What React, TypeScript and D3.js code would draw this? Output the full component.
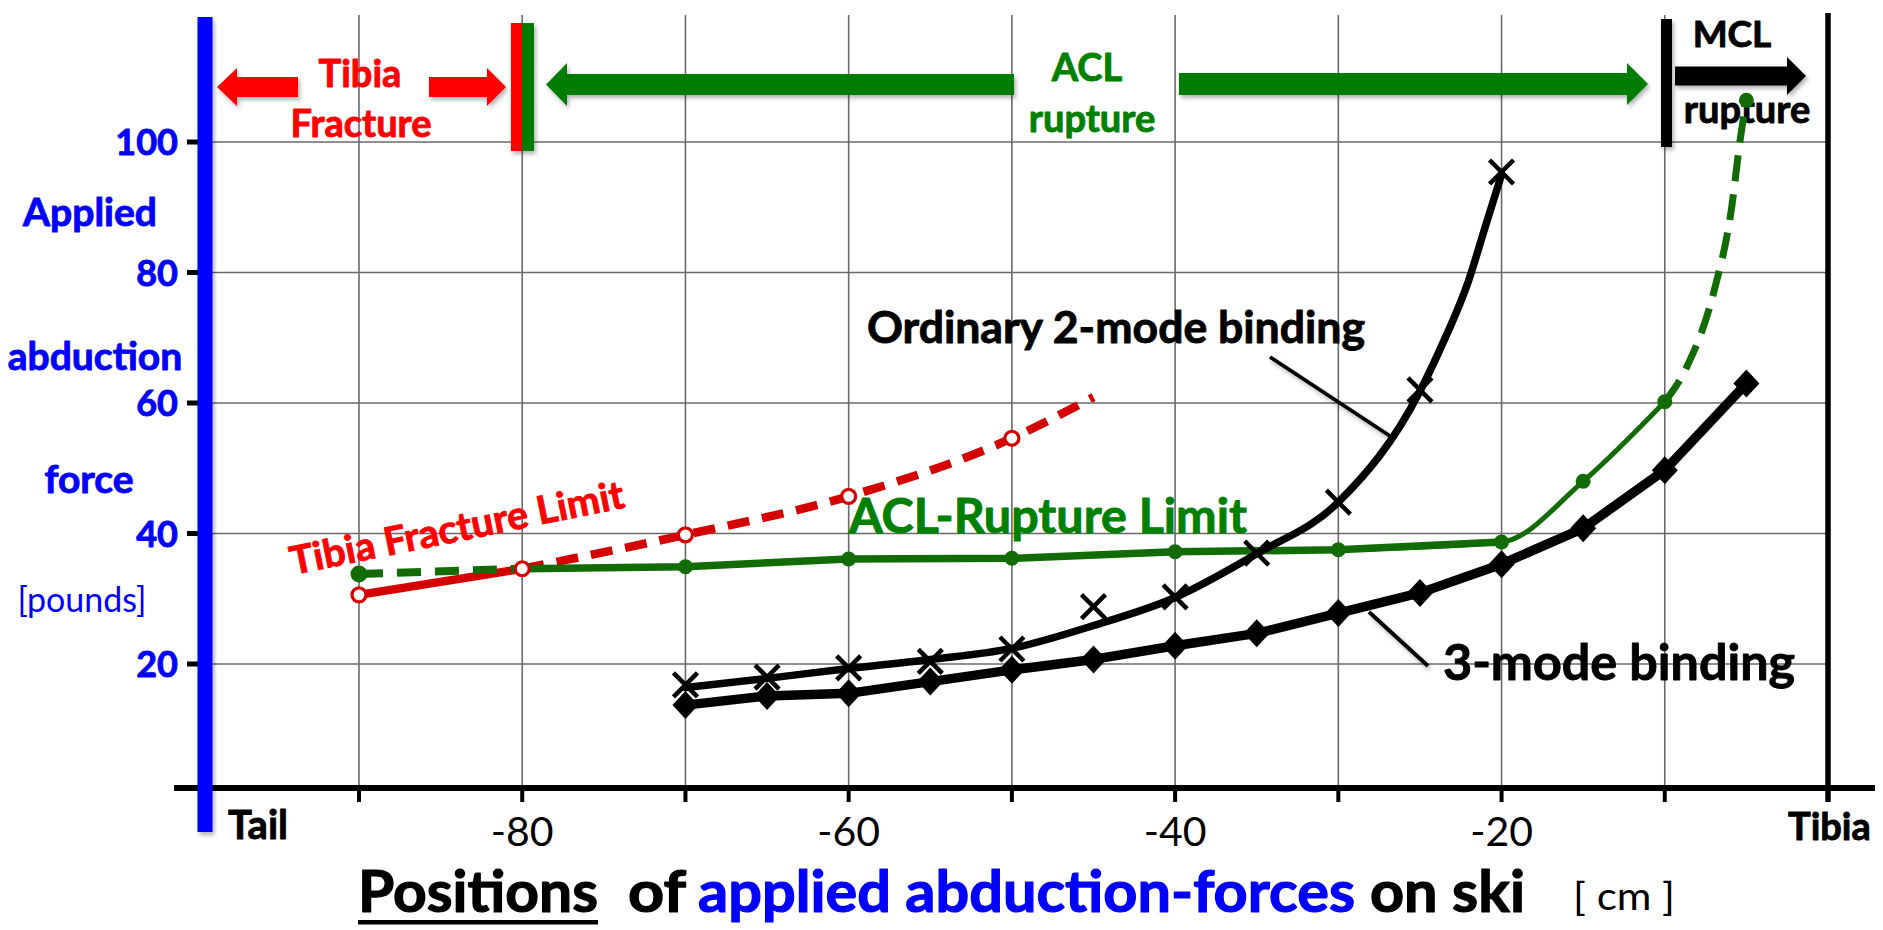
import React from "react";
import * as d3 from "d3";

// ---------- DATA ----------
const yTickValues = [20, 40, 60, 80, 100];
const xTickMarks = [-90, -80, -70, -60, -50, -40, -30, -20, -10, 0];
const xTickLabels = [-80, -60, -40, -20];
const xGridValues = [-90, -80, -70, -60, -50, -40, -30, -20, -10];

// Ordinary 2-mode binding (X markers)
const ordinaryX = [-70, -65, -60, -55, -50, -45, -40, -35, -30, -25, -20];
const ordinaryY = [16.8, 18.0, 19.4, 20.4, 22.3, 28.8, 30.3, 37.0, 44.8, 62.0, 95.4];
// Ordinary 2-mode binding fitted curve
const ordinaryFitX = [-70, -65, -60, -55, -50, -45, -40, -35, -30, -25, -23.7, -22, -21, -20];
const ordinaryFitY = [16.4, 17.8, 19.3, 20.7, 22.4, 25.9, 30.2, 36.9, 44.8, 61.8, 68.6, 78.9, 87.0, 95.0];

// 3-mode binding (diamond markers)
const threeModeX = [-70, -65, -60, -55, -50, -45, -40, -35, -30, -25, -20, -15, -10, -5];
const threeModeY = [13.7, 15.1, 15.5, 17.3, 19.1, 20.7, 22.8, 24.7, 27.8, 30.9, 35.3, 40.8, 49.7, 63.0];

// ACL-Rupture Limit
const aclFlatX = [-80, -70, -60, -50, -40, -30, -20];
const aclFlatY = [34.6, 34.9, 36.1, 36.2, 37.2, 37.5, 38.7];
const aclBendX = [-30, -20, -15, -10];
const aclBendY = [37.5, 38.7, 48.0, 60.2];
const aclLeftDashX = [-90, -80];
const aclLeftDashY = [33.8, 34.6];
const aclRightDashX = [-10, -8.7, -7, -5.9, -5.4, -5];
const aclRightDashY = [60.2, 65.3, 77, 90, 100, 106.4];
const aclMarkerX = [-90, -80, -70, -60, -50, -40, -30, -20, -15, -10, -5];
const aclMarkerY = [33.8, 34.6, 34.9, 36.1, 36.2, 37.2, 37.5, 38.7, 48.0, 60.2, 106.4];

// Tibia Fracture Limit
const tibiaSolidX = [-90, -80];
const tibiaSolidY = [30.6, 34.6];
const tibiaDashX = [-80, -70, -60, -50, -45];
const tibiaDashY = [34.6, 39.8, 45.7, 54.6, 60.9];
const tibiaMarkerX = [-90, -80, -70, -60, -50];
const tibiaMarkerY = [30.6, 34.6, 39.8, 45.7, 54.6];

// ---------- LAYOUT ----------
const W = 1883;
const H = 930;
const FONT = "Lato, 'Open Sans', 'DejaVu Sans', sans-serif";
const BLUE = "#0000ff";
const RED_TXT = "#ff0000";
const RED_LINE = "#d40000";
const GREEN_TXT = "#008000";
const GREEN_LINE = "#136b06";
const GREEN_ARROW = "#037d03";

const x = d3.scaleLinear().domain([-90, 0]).range([359, 1828]);
const y = d3.scaleLinear().domain([0, 100]).range([794.5, 142]);

const PLOT_TOP = 15;
const AXIS_Y = y(1);
const BLUE_X = 205;

const zip = (xs: number[], ys: number[]) => xs.map((v, i) => [v, ys[i]] as [number, number]);

const lineMono = d3
  .line<[number, number]>()
  .x((d) => x(d[0]))
  .y((d) => y(d[1]))
  .curve(d3.curveMonotoneX);
const lineLin = d3
  .line<[number, number]>()
  .x((d) => x(d[0]))
  .y((d) => y(d[1]))
  .curve(d3.curveLinear);

function arrowPath(tail: number, tip: number, cy: number, shaftHalf: number, headHalf: number, headLen: number) {
  const dir = tip > tail ? 1 : -1;
  const hb = tip - dir * headLen;
  const p = d3.path();
  p.moveTo(tail, cy - shaftHalf);
  p.lineTo(hb, cy - shaftHalf);
  p.lineTo(hb, cy - headHalf);
  p.lineTo(tip, cy);
  p.lineTo(hb, cy + headHalf);
  p.lineTo(hb, cy + shaftHalf);
  p.lineTo(tail, cy + shaftHalf);
  p.closePath();
  return p.toString();
}

function XMark({ cx, cy }: { cx: number; cy: number }) {
  const s = 12;
  return (
    <g stroke="#000" strokeWidth={4.5} strokeLinecap="butt">
      <line x1={cx - s} y1={cy - s} x2={cx + s} y2={cy + s} />
      <line x1={cx - s} y1={cy + s} x2={cx + s} y2={cy - s} />
    </g>
  );
}

function Diamond({ cx, cy }: { cx: number; cy: number }) {
  const s = 14;
  return <path d={`M${cx},${cy - s}L${cx + s - 1},${cy}L${cx},${cy + s}L${cx - s + 1},${cy}Z`} fill="#000" />;
}

// bold text helper (slightly emboldened to mimic the heavy original face)
function BT(props: any) {
  const { fill, sw = 0.9, children, ...rest } = props;
  return (
    <text fill={fill} stroke={fill} strokeWidth={sw} strokeLinejoin="round" fontWeight={700} {...rest}>
      {children}
    </text>
  );
}

export default function App() {
  const ord = zip(ordinaryX, ordinaryY);
  const ordFit = zip(ordinaryFitX, ordinaryFitY);
  const three = zip(threeModeX, threeModeY);
  const aclMarks = zip(aclMarkerX, aclMarkerY);
  const tibMarks = zip(tibiaMarkerX, tibiaMarkerY);

  return (
    <svg
      width={W}
      height={H}
      viewBox={`0 0 ${W} ${H}`}
      style={{ position: "absolute", left: 0, top: 0, display: "block", background: "#fff" }}
      fontFamily={FONT}
    >
      <defs>
        <filter id="sh" x="-30%" y="-30%" width="160%" height="180%">
          <feDropShadow dx="2" dy="3" stdDeviation="2" floodColor="#000" floodOpacity="0.3" />
        </filter>
      </defs>
      <rect x={0} y={0} width={W} height={H} fill="#fff" />

      {/* grid */}
      <g stroke="#6a6a6a" strokeWidth={1.6}>
        {xGridValues.map((v) => (
          <line key={"gx" + v} x1={x(v)} x2={x(v)} y1={PLOT_TOP} y2={AXIS_Y} />
        ))}
        {yTickValues.map((v) => (
          <line key={"gy" + v} x1={BLUE_X} x2={x(0)} y1={y(v)} y2={y(v)} />
        ))}
      </g>

      {/* y ticks */}
      <g stroke="#000" strokeWidth={5}>
        {yTickValues.map((v) => (
          <line key={"yt" + v} x1={187} x2={BLUE_X} y1={y(v)} y2={y(v)} />
        ))}
      </g>
      <g textAnchor="end">
        {yTickValues.map((v) => (
          <BT key={"yl" + v} fill={BLUE} fontSize={36} x={178} y={y(v) + 13}>
            {v}
          </BT>
        ))}
      </g>

      {/* x axis */}
      <line x1={174} x2={1875} y1={AXIS_Y} y2={AXIS_Y} stroke="#000" strokeWidth={6} />
      <g stroke="#000" strokeWidth={4}>
        {xTickMarks.map((v) => (
          <line key={"xt" + v} x1={x(v)} x2={x(v)} y1={AXIS_Y} y2={AXIS_Y + 14} />
        ))}
      </g>
      <g fontSize={41} textAnchor="middle" fill="#000">
        {xTickLabels.map((v) => (
          <text key={"xl" + v} x={x(v)} y={846}>
            {"-" + Math.abs(v)}
          </text>
        ))}
      </g>
      <BT x={228} y={839} fontSize={40} fill="#000">
        Tail
      </BT>
      <BT x={1788} y={840} fontSize={38} fill="#000">
        Tibia
      </BT>

      {/* right tibia line */}
      <line x1={x(0)} x2={x(0)} y1={13} y2={AXIS_Y + 14} stroke="#000" strokeWidth={5.5} />

      {/* blue y-axis bar */}
      <rect x={BLUE_X - 7.5} y={17} width={15} height={815} fill={BLUE} filter="url(#sh)" />

      {/* y axis title */}
      <g textAnchor="middle">
        <BT x={90} y={226} fontSize={39} fill={BLUE}>Applied</BT>
        <BT x={95} y={370} fontSize={39} fill={BLUE}>abduction</BT>
        <BT x={89} y={493} fontSize={39} fill={BLUE}>force</BT>
      </g>
      <text x={82} y={612} fill={BLUE} fontSize={34} textAnchor="middle">
        [pounds]
      </text>

      {/* top region bars & arrows */}
      <g filter="url(#sh)">
        <rect x={511} y={23} width={11.5} height={128} fill={RED_TXT} />
        <rect x={522} y={23} width={12} height={128} fill={GREEN_ARROW} />
        <rect x={1661} y={19} width={11} height={128} fill="#000" />
        <path d={arrowPath(298, 217, 87, 10, 19, 20)} fill={RED_TXT} />
        <path d={arrowPath(429, 506, 87, 10, 19, 19)} fill={RED_TXT} />
        <path d={arrowPath(1014, 546, 84.5, 10.5, 21.5, 21)} fill={GREEN_ARROW} />
        <path d={arrowPath(1179, 1648, 84, 11, 21, 21)} fill={GREEN_ARROW} />
        <path d={arrowPath(1675, 1806, 76, 9.5, 19, 19)} fill="#000" />
      </g>
      <g textAnchor="middle">
        <BT x={360} y={87} fontSize={38} fill={RED_TXT}>Tibia</BT>
        <BT x={361} y={137} fontSize={38} fill={RED_TXT}>Fracture</BT>
        <BT x={1087} y={81} fontSize={38} fill={GREEN_TXT}>ACL</BT>
        <BT x={1092} y={132} fontSize={38} fill={GREEN_TXT}>rupture</BT>
        <BT x={1732} y={47} fontSize={37} fill="#000">MCL</BT>
        <BT x={1747} y={123} fontSize={38} fill="#000">rupture</BT>
      </g>

      {/* Tibia fracture limit */}
      <path d={lineLin(zip(tibiaSolidX, tibiaSolidY)) || ""} fill="none" stroke={RED_LINE} strokeWidth={8.5} />
      <path
        d={lineMono(zip(tibiaDashX, tibiaDashY)) || ""}
        fill="none"
        stroke={RED_LINE}
        strokeWidth={8.5}
        strokeDasharray="22 13"
      />

      {/* ACL limit */}
      <path
        d={lineLin(zip(aclLeftDashX, aclLeftDashY)) || ""}
        fill="none"
        stroke={GREEN_LINE}
        strokeWidth={8}
        strokeDasharray="24 14"
      />
      <path d={lineMono(zip(aclBendX, aclBendY)) || ""} fill="none" stroke={GREEN_LINE} strokeWidth={5} />
      <path
        d={lineLin(zip(aclFlatX, aclFlatY)) || ""}
        fill="none"
        stroke={GREEN_LINE}
        strokeWidth={7.5}
        strokeLinejoin="round"
      />
      <path
        d={lineMono(zip(aclRightDashX, aclRightDashY)) || ""}
        fill="none"
        stroke={GREEN_LINE}
        strokeWidth={7}
        strokeDasharray="26 13"
      />
      {aclMarks.map((d, i) => (
        <circle key={"am" + i} cx={x(d[0])} cy={y(d[1])} r={i === 0 ? 8.5 : 7.5} fill={GREEN_LINE} />
      ))}
      {tibMarks.map((d, i) => (
        <circle key={"tm" + i} cx={x(d[0])} cy={y(d[1])} r={7} fill="#fff" stroke={RED_LINE} strokeWidth={3.2} />
      ))}

      {/* 3-mode binding */}
      <path d={lineLin(three) || ""} fill="none" stroke="#000" strokeWidth={9.5} strokeLinejoin="round" />
      {three.map((d, i) => (
        <Diamond key={"dm" + i} cx={x(d[0])} cy={y(d[1])} />
      ))}

      {/* Ordinary 2-mode binding */}
      <path d={lineMono(ordFit) || ""} fill="none" stroke="#000" strokeWidth={7.5} strokeLinecap="round" />
      {ord.map((d, i) => (
        <XMark key={"xm" + i} cx={x(d[0])} cy={y(d[1])} />
      ))}

      {/* annotations */}
      <BT
        x={293}
        y={575}
        fill={RED_TXT}
        fontSize={39}
        textLength={340}
        lengthAdjust="spacingAndGlyphs"
        transform="rotate(-11.5 293 575)"
      >
        Tibia Fracture Limit
      </BT>
      <BT x={849} y={533} fill={GREEN_TXT} fontSize={47} textLength={398} lengthAdjust="spacingAndGlyphs">
        ACL-Rupture Limit
      </BT>
      <BT x={867} y={343} fill="#000" fontSize={44} textLength={498} lengthAdjust="spacingAndGlyphs">
        Ordinary 2-mode binding
      </BT>
      <BT x={1443} y={680} fill="#000" fontSize={50} textLength={352} lengthAdjust="spacingAndGlyphs">
        3-mode binding
      </BT>
      <g stroke="#000" strokeWidth={3.8} filter="url(#sh)">
        <line x1={1270} y1={357} x2={1390} y2={436} />
        <line x1={1369} y1={612} x2={1428} y2={666} />
      </g>

      {/* x-axis title */}
      <BT x={358} y={912} fill="#000" fontSize={57} textLength={240} lengthAdjust="spacingAndGlyphs" sw={1.2}>
        Positions
      </BT>
      <BT x={628} y={912} fill="#000" fontSize={57} textLength={58} lengthAdjust="spacingAndGlyphs" sw={1.2}>
        of
      </BT>
      <BT x={698} y={912} fill={BLUE} fontSize={57} textLength={657} lengthAdjust="spacingAndGlyphs" sw={1.2}>
        applied abduction-forces
      </BT>
      <BT x={1370} y={912} fill="#000" fontSize={57} textLength={155} lengthAdjust="spacingAndGlyphs" sw={1.2}>
        on ski
      </BT>
      <rect x={358} y={920} width={240} height={4.5} fill="#000" />
      <text x={1573} y={910} fontSize={38} fill="#000" textLength={102} lengthAdjust="spacingAndGlyphs">
        [ cm ]
      </text>
    </svg>
  );
}
